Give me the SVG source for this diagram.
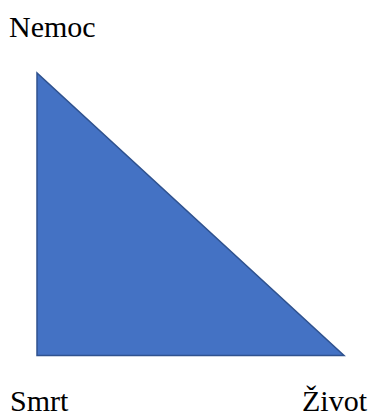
<svg xmlns="http://www.w3.org/2000/svg" width="373" height="419" viewBox="0 0 373 419">
<style>
.lbl{font-family:"Liberation Serif","Times New Roman",serif;font-size:30px;fill:#000}
.tri{fill:#4472C4;stroke:#2F528F;stroke-width:1.5}
</style>
<rect width="373" height="419" fill="#fff"/>
<g id="triangle"><polygon class="tri" points="37,73 37,355.5 344,355.5"/></g>
<g id="connectors"/>
<g id="nemoc"><text class="lbl" x="9" y="37">Nemoc</text></g>
<g id="smrt"><text class="lbl" x="10" y="411">Smrt</text></g>
<g id="zivot"><text class="lbl" x="302" y="411">Život</text></g>
</svg>
